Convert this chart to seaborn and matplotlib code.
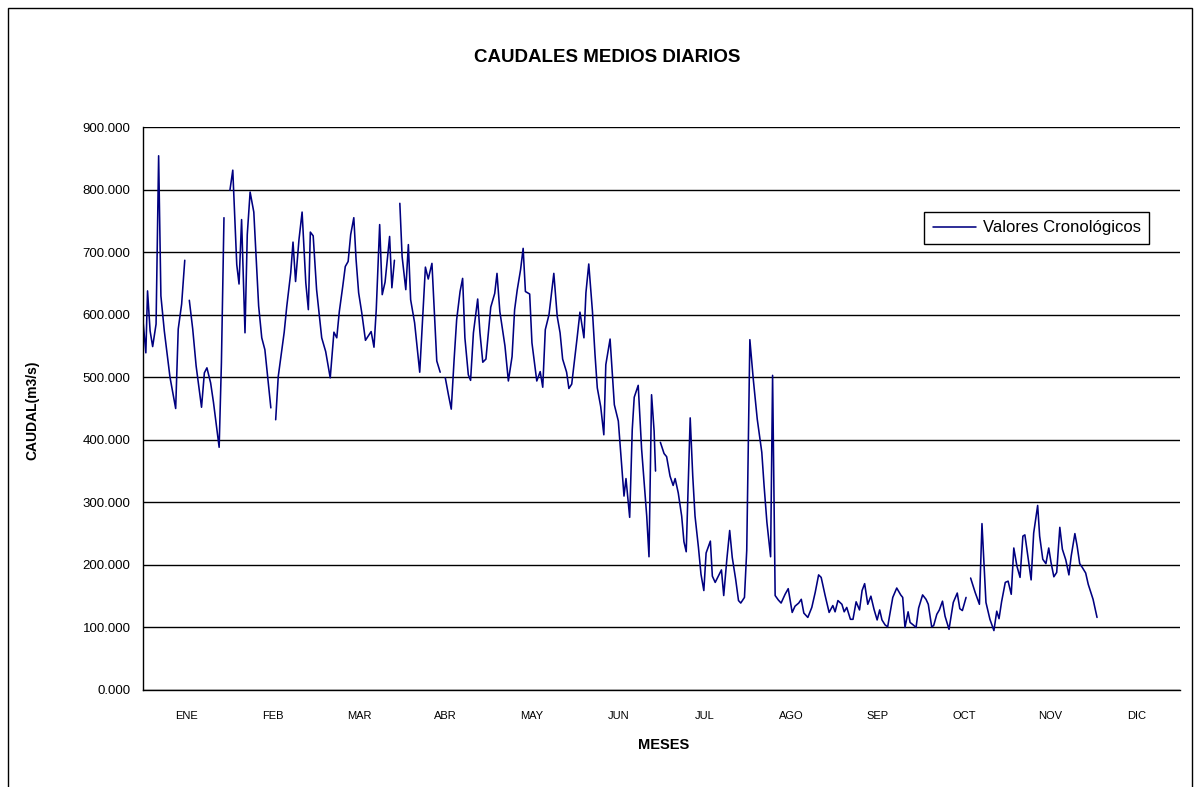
import numpy as np
import pandas as pd
import matplotlib
matplotlib.use("Agg")
import matplotlib.pyplot as plt
import seaborn as sns
from matplotlib.lines import Line2D
from matplotlib.patches import Rectangle

# dia del año (vertices) y caudal medio diario (m3/s)
# NaN = dato faltante (corta la linea)
dias = [
    0.0, 1.0, 1.6, 2.5, 3.4, 4.6, 5.5, 6.3, 7.5, 9.5, 11.5, 12.4, 13.6, 14.7, 15.5,
    16.3, 17.5, 18.7, 20.6, 21.6, 22.5, 23.8, 24.8, 26.8, 27.6, 28.5, 29.5,
    30.6, 31.6, 33.0, 33.8, 34.7, 35.9, 36.7, 37.7, 39.0, 40.7, 41.8, 42.9, 45.0, 45.8,
    46.7, 47.6, 49.7, 50.6, 52.0, 52.8, 53.7, 54.9, 56.0, 57.3, 58.2, 58.9, 59.9,
    61.1, 62.9, 64.3, 65.9, 67.2, 68.2, 69.1, 70.3, 71.2, 72.2, 73.1, 74.2, 75.0,
    75.9, 77.0, 78.3, 80.3, 81.3, 82.1, 83.3, 84.2, 85.2, 86.8, 87.6, 88.5, 89.4,
    90.4, 91.2, 92.5, 93.4, 94.2, 95.6, 97.4, 99.4, 100.4, 101.7, 103.4, 104.6, 105.5,
    106.4, 107.5, 108.5, 109.5, 110.4, 111.6, 112.5, 113.3, 114.5, 115.3, 116.3,
    117.8, 118.6, 119.6, 120.7, 122.4, 123.8, 124.6, 125.6, 127.4, 128.6, 129.9,
    130.8, 131.7, 132.9, 133.8, 134.6, 136.1, 136.9, 138.6, 139.8, 140.7, 141.6,
    142.9, 144.6, 145.8, 146.8, 147.7, 149.1, 149.9, 150.9, 152.8, 153.8, 155.2,
    155.9, 156.9, 158.2, 159.1, 159.9, 161.1, 162.2, 162.9, 164.4, 165.9, 167.3,
    168.2, 169.3, 170.0, 171.3, 172.2, 172.9, 174.3, 175.5, 177.3, 178.1, 179.0,
    179.9, 180.4, 181.2,
    182.1, 183.4, 184.3, 185.5, 186.6, 187.3, 188.4, 189.6, 190.4, 191.2, 192.6,
    193.5, 194.3, 195.5, 196.4, 197.4, 198.2, 199.7, 200.4, 201.4, 203.6, 204.4,
    205.5, 206.5, 207.4, 208.6, 209.6, 210.4, 211.7, 212.5, 213.6, 214.8, 216.2,
    217.8, 218.6, 219.6, 220.9, 221.6, 222.5, 223.6, 224.6, 226.0, 227.1, 228.5,
    229.5, 230.8, 231.7, 232.6, 234.0, 235.4, 236.6, 237.8, 238.7, 240.1, 241.5,
    242.8, 243.6, 244.6, 246.0, 246.8, 247.7, 249.0, 249.9, 251.0, 252.2, 253.1,
    254.0, 255.1, 256.2, 257.3, 258.4, 259.3, 260.1, 261.2, 262.1, 263.9, 265.3,
    266.7, 267.4, 268.2, 269.3, 270.0, 271.1, 272.1, 273.0, 274.4, 275.6, 276.4,
    277.6, 278.3, 279.4, 280.3, 281.4, 282.3, 283.7, 285.2, 286.6, 287.5, 288.4,
    289.7, 290.5,
    291.3, 292.9, 294.4, 295.3, 296.7, 298.1, 299.5, 300.5, 301.3, 302.2, 303.5,
    304.5, 305.6, 306.5, 307.6, 308.7, 309.7, 310.4, 311.6, 312.6, 313.5, 314.9,
    315.6, 316.7, 317.8, 318.8, 319.6, 320.6, 321.6, 322.7, 323.6, 324.8, 325.9,
    326.7, 328.0, 328.8, 329.7, 330.6, 331.8, 332.7, 334.4, 335.8,
]
caudal = [
    590, 539, 638, 574, 549, 585, 854, 630, 574, 500, 450, 577, 617, 687, np.nan,
    623, 577, 518, 452, 507, 515, 491, 460, 388, 523, 755, np.nan,
    799, 831, 680, 649, 752, 571, 728, 796, 764, 614, 563, 544, 451, np.nan,
    432, 501, 572, 613, 667, 716, 653, 720, 764, 651, 608, 732, 726,
    640, 563, 541, 499, 572, 563, 605, 645, 677, 685, 728, 755, 688,
    635, 603, 559, 573, 548, 608, 744, 632, 652, 725, 643, 687, np.nan,
    778, 693, 640, 712, 624, 587, 508, 676, 657, 682, 526, 508, np.nan,
    499, 472, 449, 528, 592, 637, 658, 563, 504, 495, 571,
    625, 571, 524, 529, 612, 634, 666, 605, 550, 494, 533,
    608, 639, 672, 706, 637, 633, 555, 494, 509, 484, 576,
    600, 666, 597, 571, 529, 508, 482, 489, 563, 604, 563,
    635, 681, 605, 536, 483, 453, 408, 520, 561, 456, 430,
    376, 310, 338, 276, 416, 468, 487, 385, 278, 213, 472,
    414, 350, np.nan,
    396, 378, 373, 342, 327, 338, 315, 278, 237, 221, 435,
    342, 278, 228, 185, 159, 219, 238, 182, 172, 192, 151,
    209, 255, 212, 177, 143, 139, 148, 223, 560, 497, 433,
    380, 327, 268, 213, 503, 151, 144, 139, 153, 162, 124,
    134, 139, 145, 123, 116, 132, 156, 184, 180, 151, 124,
    135, 125, 143, 137, 125, 132, 113, 113, 141, 128, 159,
    170, 137, 150, 129, 112, 128, 112, 104, 101, 148, 163,
    152, 148, 100, 125, 108, 104, 100, 131, 152, 145, 137,
    101, 103, 121, 128, 142, 118, 97, 140, 155, 130, 127,
    148, np.nan,
    179, 156, 137, 266, 140, 113, 95, 126, 114, 141, 172,
    174, 153, 227, 198, 180, 246, 248, 209, 176, 251, 295,
    246, 209, 202, 227, 204, 181, 188, 260, 225, 208, 184,
    214, 250, 230, 202, 196, 187, 169, 145, 116,
]
meses = ["ENE", "FEB", "MAR", "ABR", "MAY", "JUN", "JUL", "AGO", "SEP", "OCT", "NOV", "DIC"]
y_ticks = [0, 100, 200, 300, 400, 500, 600, 700, 800, 900]

df = pd.DataFrame({"dia": dias, "caudal": caudal})
# cada tramo sin faltantes es una "unidad" para que seaborn no una los huecos
df["tramo"] = df["caudal"].isna().cumsum()
df = df.dropna()

sns.set_style("white")
plt.rcParams["font.family"] = ["Liberation Sans", "DejaVu Sans"]
plt.rcParams["text.color"] = "black"
plt.rcParams["axes.labelcolor"] = "black"
plt.rcParams["xtick.color"] = "black"
plt.rcParams["ytick.color"] = "black"

fig = plt.figure(figsize=(12, 7.87), dpi=100)
ax = fig.add_axes([143 / 1200, 1 - 690 / 787, 1037 / 1200, 563 / 787])

sns.lineplot(data=df, x="dia", y="caudal", units="tramo", estimator=None,
             sort=False, color="#000080", linewidth=1.15, ax=ax)

ax.set_xlim(0, 365)
ax.set_ylim(0, 900)

# eje y
ax.set_yticks(y_ticks)
ax.set_yticklabels([f"{v:.3f}" for v in y_ticks], fontsize=9.5, color="black")
ax.yaxis.grid(True, color="black", linewidth=1.0)
ax.set_axisbelow(True)
ax.tick_params(axis="y", direction="out", length=5, width=1, color="black", pad=4)

# eje x: marcas en el cambio de mes, etiquetas en el centro
bordes = [i * 365 / 12 for i in range(13)]
centros = [(i + 0.5) * 365 / 12 for i in range(12)]
ax.set_xticks(bordes)
ax.set_xticklabels([])
ax.set_xticks(centros, minor=True)
ax.set_xticklabels(meses, minor=True, fontsize=8, color="black")
ax.tick_params(axis="x", which="major", direction="out", length=7, width=1, color="black")
ax.tick_params(axis="x", which="minor", length=0, pad=15)

for s in ["top", "right"]:
    ax.spines[s].set_visible(False)
for s in ["left", "bottom"]:
    ax.spines[s].set_color("black")
    ax.spines[s].set_linewidth(1.0)

ax.set_xlabel("")
ax.set_ylabel("")
fig.text(664 / 1200, 1 - 745 / 787, "MESES", ha="center", va="center",
         fontsize=10.5, fontweight="bold", color="black")
fig.text(32 / 1200, 1 - 410 / 787, "CAUDAL(m3/s)", ha="center", va="center",
         rotation=90, fontsize=10, fontweight="bold", color="black")
fig.text(607 / 1200, 1 - 58 / 787, "CAUDALES MEDIOS DIARIOS", ha="center",
         va="center", fontsize=13.5, fontweight="bold", color="black")

handle = Line2D([], [], color="#000080", linewidth=1.15)
leg = ax.legend([handle], ["Valores Cronológicos"], loc="upper right",
                bbox_to_anchor=(0.970, 0.849), fontsize=12, frameon=True,
                fancybox=False, framealpha=1, edgecolor="black",
                handlelength=2.6, handletextpad=0.4, borderpad=0.5,
                borderaxespad=0)
leg.get_frame().set_linewidth(1.0)
for t in leg.get_texts():
    t.set_color("black")

# borde del area del grafico
fig.patches.append(Rectangle((8 / 1200, -0.02), 1184 / 1200, 1 - 8 / 787 + 0.02,
                             transform=fig.transFigure, fill=False,
                             edgecolor="black", linewidth=1.0))

fig.savefig("out.png", dpi=100)
